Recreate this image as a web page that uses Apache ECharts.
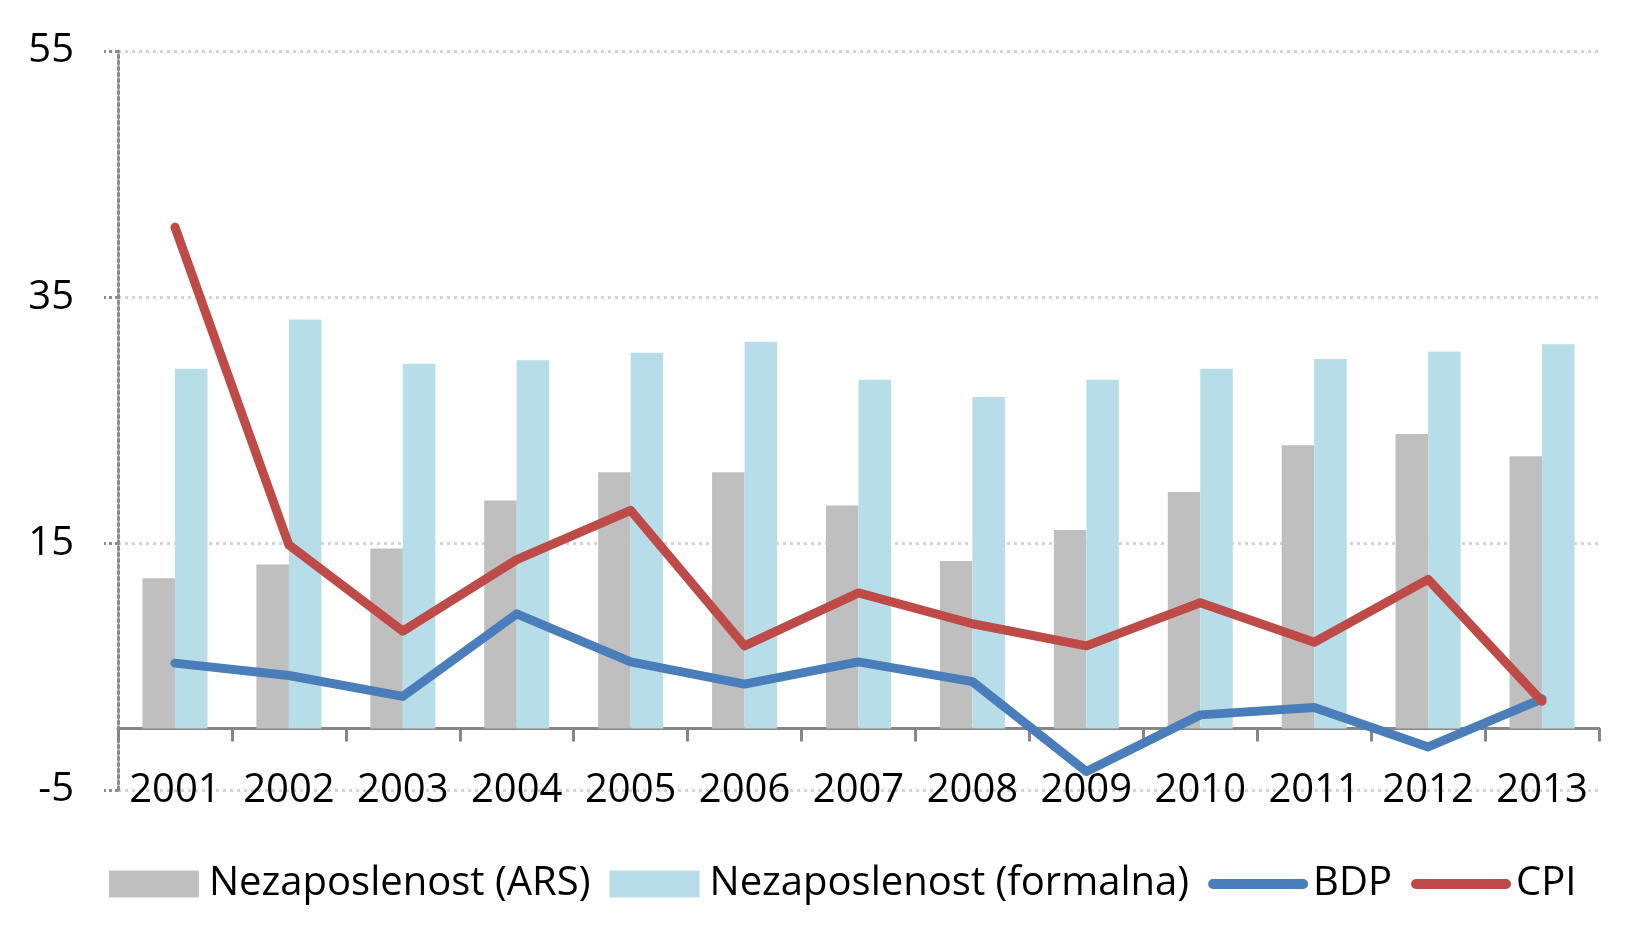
<!DOCTYPE html>
<html>
<head>
<meta charset="utf-8">
<script src="https://cdn.jsdelivr.net/npm/echarts@6/dist/echarts.min.js"></script>
<style>
html,body{margin:0;padding:0;background:#fff;}
#chart{width:1650px;height:951px;}
</style>
</head>
<body>
<div id="chart"></div>
<script>
var years = ['2001','2002','2003','2004','2005','2006','2007','2008','2009','2010','2011','2012','2013'];
var nezaposlenostARS = [12.2, 13.3, 14.6, 18.5, 20.8, 20.8, 18.1, 13.6, 16.1, 19.2, 23.0, 23.9, 22.1];
var nezaposlenostFormalna = [29.2, 33.2, 29.6, 29.9, 30.5, 31.4, 28.3, 26.9, 28.3, 29.2, 30.0, 30.6, 31.2];
var bdp = [5.3, 4.3, 2.6, 9.3, 5.4, 3.6, 5.4, 3.8, -3.5, 1.1, 1.7, -1.5, 2.4];
var cpi = [40.7, 14.9, 7.9, 13.7, 17.7, 6.7, 11.0, 8.5, 6.7, 10.2, 7.0, 12.1, 2.2];
var yTicks = {min: -5, max: 55, interval: 20};

var FONT = 'Open Sans';
var BLUE = '#4a7ebb', RED = '#be4b48';
var chart = echarts.init(document.getElementById('chart'));
chart.setOption({
  animation: false,
  backgroundColor: '#ffffff',
  textStyle: {fontFamily: FONT},
  grid: {left: 118, right: 51, top: 51, bottom: 161, containLabel: false},
  legend: {
    top: 859,
    left: 104,
    itemWidth: 90,
    itemHeight: 27,
    itemGap: 19,
    textStyle: {fontFamily: FONT, fontSize: 40, color: '#000', padding: [0, 0, 0, 5]},
    data: [
      {name: 'Nezaposlenost (ARS)', icon: 'rect'},
      {name: 'Nezaposlenost (formalna)', icon: 'rect'},
      {name: 'BDP', itemStyle: {opacity: 0}, lineStyle: {width: 10, color: BLUE, cap: 'round'}},
      {name: 'CPI', itemStyle: {opacity: 0}, lineStyle: {width: 10, color: RED, cap: 'round'}}
    ]
  },
  xAxis: {
    type: 'category',
    data: years,
    boundaryGap: true,
    axisLine: {onZero: true, lineStyle: {color: '#868686', width: 3}},
    axisTick: {show: true, length: 13, lineStyle: {color: '#868686', width: 3}},
    axisLabel: {interval: 0, fontFamily: FONT, fontSize: 40, color: '#000', margin: -19},
    splitLine: {show: false}
  },
  yAxis: {
    type: 'value',
    min: yTicks.min,
    max: yTicks.max,
    interval: yTicks.interval,
    axisLine: {show: true, lineStyle: {color: '#8c8c8c', width: 3, type: [3, 3]}},
    axisTick: {show: true, length: 14, lineStyle: {color: '#8c8c8c', width: 3, type: [3, 3]}},
    axisLabel: {fontFamily: FONT, fontSize: 40, color: '#000', margin: 44},
    splitLine: {show: true, lineStyle: {color: '#d4d4d4', width: 3, type: [3, 4]}}
  },
  series: [
    {
      name: 'Nezaposlenost (ARS)',
      type: 'bar',
      data: nezaposlenostARS,
      barWidth: 32.5,
      barGap: '0%',
      itemStyle: {color: '#bfbfbf'}
    },
    {
      name: 'Nezaposlenost (formalna)',
      type: 'bar',
      data: nezaposlenostFormalna,
      barWidth: 32.5,
      barGap: '0%',
      itemStyle: {color: '#b7dde8'}
    },
    {
      name: 'BDP',
      type: 'line',
      data: bdp,
      symbol: 'none',
      lineStyle: {color: BLUE, width: 9, cap: 'round', join: 'round'},
      itemStyle: {color: BLUE},
      z: 3
    },
    {
      name: 'CPI',
      type: 'line',
      data: cpi,
      symbol: 'none',
      lineStyle: {color: RED, width: 9, cap: 'round', join: 'round'},
      itemStyle: {color: RED},
      z: 4
    }
  ]
});
</script>
</body>
</html>
